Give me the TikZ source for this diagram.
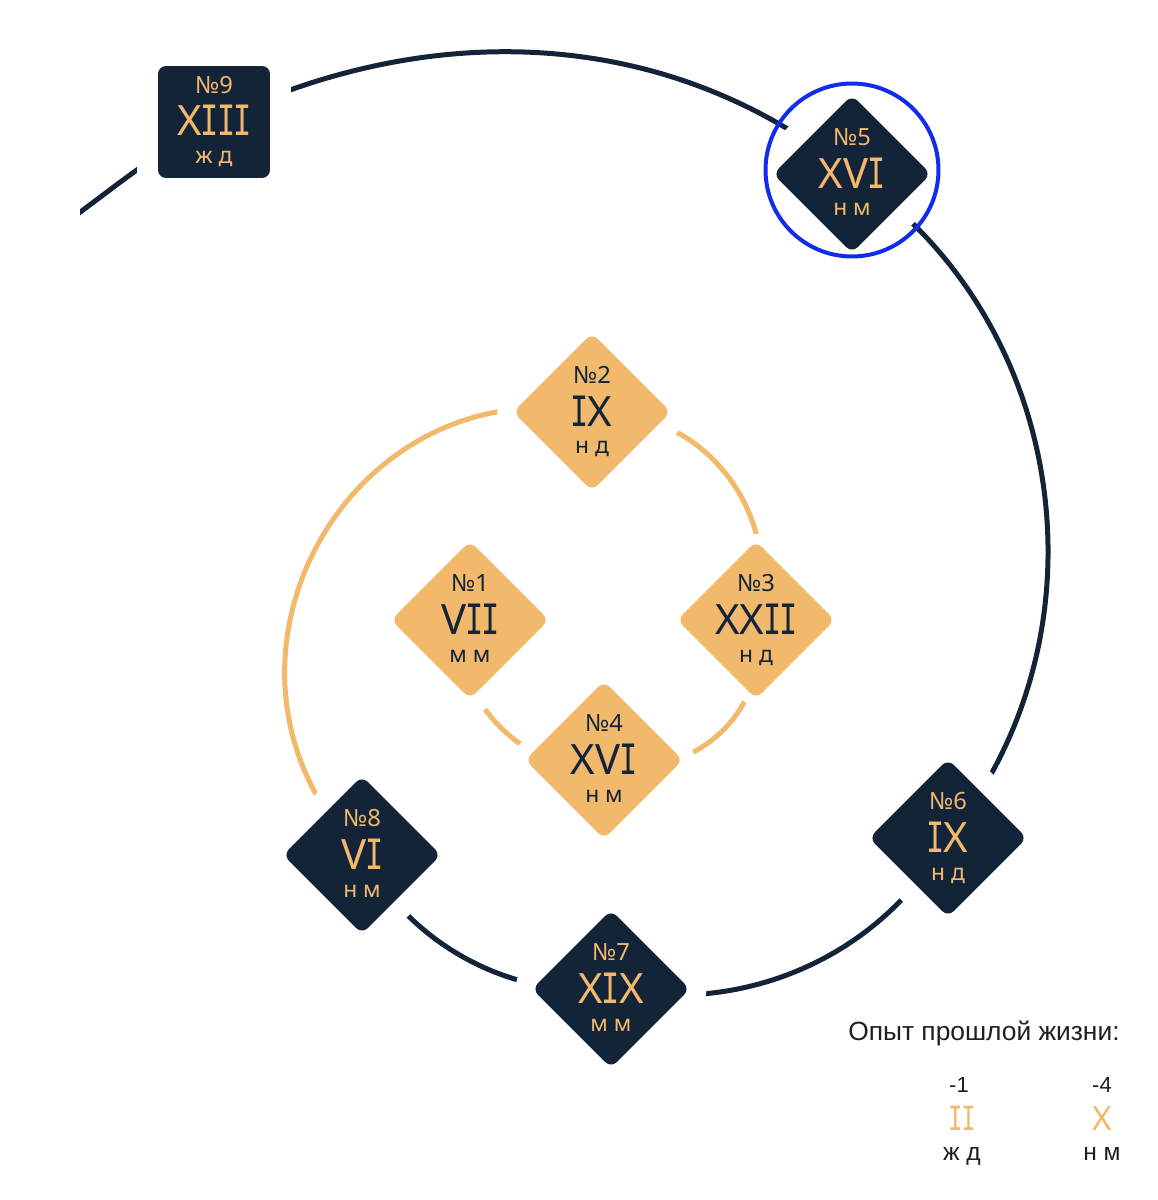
\documentclass[tikz,border=0pt]{standalone}
\usepackage{fontspec}
\setmainfont{Noto Sans}
\newfontfamily\legendfont{Liberation Sans}
\newfontfamily\serifone[FakeStretch=0.72]{DejaVu Sans Mono}
\usetikzlibrary{shapes.geometric}

\definecolor{ink}{RGB}{19,35,56}
\definecolor{sand}{RGB}{242,185,108}
\definecolor{ringblue}{RGB}{16,44,236}

\pgfdeclarelayer{paper}
\pgfdeclarelayer{spiral}
\pgfsetlayers{paper,spiral,main}

% roman one with serifs
\newcommand\rI{\kern-0.02em{\serifone I}\kern-0.02em}
% three lines of a life: number, numeral, letters
\newcommand\lifetext[3]{\vbox{\offinterlineskip\halign{\hfil##\hfil\cr
  \vrule height0.40cm depth0.16cm width0pt\fontsize{13.5}{14}\selectfont #1\cr
  \vrule height0.70cm depth0.12cm width0pt\fontsize{23.8}{24}\selectfont #2\cr
  \vrule height0.44cm depth0.14cm width0pt\fontsize{13}{14}\selectfont #3\cr}}}

\tikzset{
  lifebox/.style={diamond, minimum size=3.16cm, inner sep=0pt, rounded corners=0.16cm},
  halo/.style={preaction={draw=white, line width=#1}},
  darklife/.style n args={3}{lifebox, fill=ink,
    label={[text=sand]center:\lifetext{#1}{#2}{#3}}},
  sandlife/.style n args={3}{lifebox, fill=sand,
    label={[text=ink]center:\lifetext{#1}{#2}{#3}}},
  ring/.style={circle, draw=ringblue, line width=0.08cm, minimum size=3.46cm, inner sep=0pt},
  inkline/.style={draw=ink, line width=0.1cm, line cap=round},
  sandline/.style={draw=sand, line width=0.1cm, line cap=round},
  legtxt/.style={font=\legendfont\fontsize{15}{18}\selectfont, text=black!88, inner sep=0pt},
  legnum/.style={font=\legendfont\fontsize{12.5}{14}\selectfont, text=black!88, inner sep=0pt, anchor=base},
  legrom/.style={font=\fontsize{19}{20}\selectfont, text=sand, inner sep=0pt, anchor=base},
  legsex/.style={font=\legendfont\fontsize{14}{16}\selectfont, text=black!88, inner sep=0pt, anchor=base}
}

\begin{document}
\begin{tikzpicture}[x=0.02cm, y=-0.02cm]
  \useasboundingbox (0,0) rectangle (1157,1200);
  \begin{pgfonlayer}{paper}
    \fill[white] (0,0) rectangle (1157,1200);
  \end{pgfonlayer}

  % inner turn
  \node[sandlife={№1}{V\rI\rI}{м м}, halo=0.74cm] (n1) at (470,620) {};
  \node[sandlife={№2}{\rI X}{н д}, halo=0.76cm] (n2) at (592,412) {};
  \node[sandlife={№3}{XX\rI\rI}{н д}, halo=0.42cm] (n3) at (756,620) {};
  \node[sandlife={№4}{XV\rI}{н м}, halo=0.6cm] (n4) at (604,760) {};

  % outer turn
  \node[darklife={№5}{XV\rI}{н м}, halo=0.9cm] (n5) at (852,174) {};
  \node[darklife={№6}{\rI X}{н д}, halo=0.84cm] (n6) at (948,838) {};
  \node[darklife={№7}{X\rI X}{м м}, halo=0.8cm] (n7) at (611,989) {};
  \node[darklife={№8}{V\rI}{н м}, halo=0.8cm] (n8) at (362,855) {};
  \node[darklife={№9}{X\rI\rI\rI}{ж д}, rectangle, minimum size=2.24cm, halo=0.84cm] (n9) at (214,122) {};

  \node[ring, yshift=0.08cm] (ring5) at (n5) {};

  \coordinate (sp0) at (64,224);
  \begin{pgfonlayer}{spiral}
    \begin{scope}
      \clip (80,0) rectangle (1157,1200);
      \draw[inkline] (sp0) to[out=36, in=-152] (n9.center);
    \end{scope}
    \draw[inkline] (n9.center) to[out=26, in=141, looseness=0.95] (n5.center);
    \draw[inkline] (n5.center) to[out=-34, in=51] (n6.center);
    \draw[inkline] (n6.center) to[out=-120, in=-11, looseness=0.95] (n7.center);
    \draw[inkline] (n7.center) to[out=-175, in=-61, looseness=0.93] (n8.center);
    \draw[sandline] (n8.center) to[out=135, in=170, looseness=1.31] (n2.center);
    \draw[sandline] (n2.center) to[out=2, in=75, looseness=1.07] (n3.center);
    \draw[sandline] (n3.center) to[out=-78, in=-17, looseness=1.13] (n4.center);
    \draw[sandline] (n4.center) to[out=-158, in=-117, looseness=0.98] (n1.center);
  \end{pgfonlayer}

  % legend
  \node[legtxt, anchor=base west] (legtitle) at (848,1040) {Опыт прошлой жизни:};
  \node[legnum] (leg1num) at (959,1092) {-1};
  \node[legrom] (leg1rom) at (962,1130) {\rI\rI};
  \node[legsex] (leg1sex) at (962,1160) {ж д};
  \node[legnum] (leg2num) at (1102,1092) {-4};
  \node[legrom] (leg2rom) at (1102,1130) {X};
  \node[legsex] (leg2sex) at (1102,1160) {н м};
\end{tikzpicture}
\end{document}
